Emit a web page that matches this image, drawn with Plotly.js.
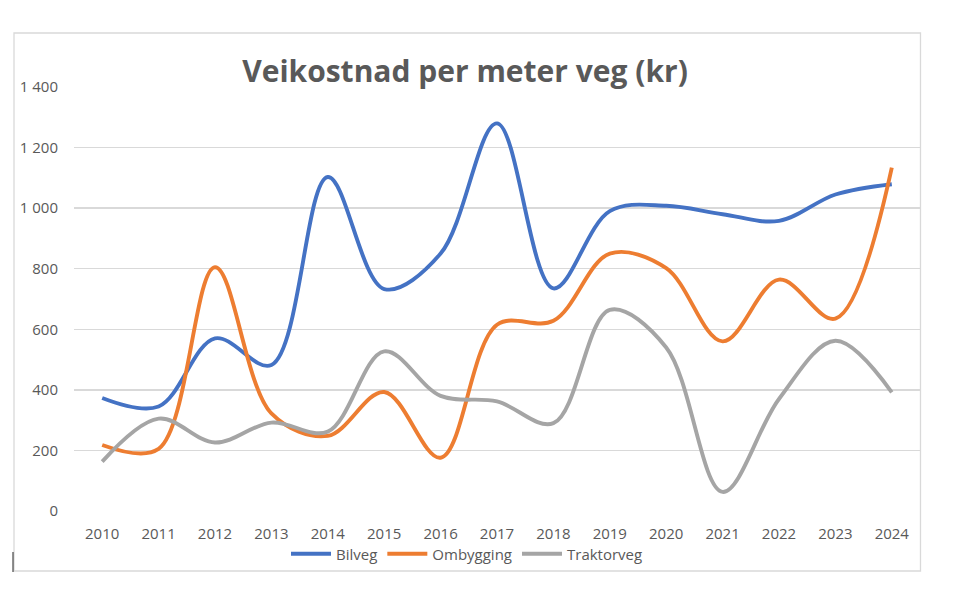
<!DOCTYPE html>
<html>
<head>
<meta charset="utf-8">
<script src="https://cdn.plot.ly/plotly-3.0.1.min.js"></script>
<style>html,body{margin:0;padding:0;background:#fff;}#chart{width:967px;height:611px;}</style>
</head>
<body>
<div id="chart"></div>
<script>
const years = ["2010","2011","2012","2013","2014","2015","2016","2017","2018","2019","2020","2021","2022","2023","2024"];
const bilveg = [373, 345, 570, 482, 1103, 733, 850, 1280, 735, 990, 1008, 980, 958, 1045, 1079];
const ombygging = [218, 205, 805, 322, 248, 393, 176, 615, 628, 850, 802, 560, 764, 635, 1134];
const traktorveg = [163, 305, 226, 292, 262, 527, 380, 362, 290, 664, 540, 63, 370, 562, 392];
const yTickVals = [0, 200, 400, 600, 800, 1000, 1200, 1400];
const yTickText = ["0", "200", "400", "600", "800", "1 000", "1 200", "1 400"];

const font = "Open Sans, Noto Sans, sans-serif";
const txt = "#595959";

function tr(name, y, color) {
  return {x: years, y: y, name: name, type: "scatter", mode: "lines",
    line: {color: color, width: 3.9, shape: "spline", smoothing: 1}};
}

const data = [
  tr("Bilveg", bilveg, "#4472C4"),
  tr("Ombygging", ombygging, "#ED7D31"),
  tr("Traktorveg", traktorveg, "#A5A5A5")
];

const layout = {
  width: 967, height: 611,
  margin: {l: 74, r: 47, t: 87, b: 100},
  paper_bgcolor: "#fff", plot_bgcolor: "#fff",
  font: {family: font, size: 15, color: txt},
  title: {text: "<b>Veikostnad per meter veg (kr)</b>", font: {family: font, size: 30, color: txt},
    xref: "paper", x: (465 - 74) / 846, xanchor: "center", yref: "container", y: 1 - 71 / 611, yanchor: "middle"},
  xaxis: {type: "category", range: [-0.5, 14.5], showgrid: false, zeroline: false, showline: false,
    ticks: "", ticklabelstandoff: 12, tickfont: {family: font, size: 15, color: txt}, fixedrange: true},
  yaxis: {range: [0, 1400], tickvals: yTickVals, ticktext: yTickText, showgrid: true, gridcolor: "#D9D9D9",
    gridwidth: 1.3, zeroline: false, showline: false, ticks: "", ticklabelstandoff: 15,
    tickfont: {family: font, size: 15, color: txt}, fixedrange: true},
  showlegend: true,
  legend: {orientation: "h", x: (467 - 74) / 846, xanchor: "center", y: (511 - 554) / 424, yanchor: "middle",
    itemwidth: 40, font: {family: font, size: 15, color: txt}, bgcolor: "rgba(0,0,0,0)", traceorder: "normal"},
  shapes: [
    {type: "rect", xref: "paper", yref: "paper", x0: (14 - 74) / 846, x1: (920.5 - 74) / 846,
      y0: (511 - 571) / 424, y1: (511 - 33) / 424, line: {color: "#D9D9D9", width: 1.3}, fillcolor: "rgba(0,0,0,0)", layer: "below"},
    {type: "line", xref: "paper", yref: "paper", x0: (13 - 74) / 846, x1: (13 - 74) / 846,
      y0: (511 - 552) / 424, y1: (511 - 572) / 424, line: {color: "#222", width: 1}}
  ]
};

Plotly.newPlot("chart", data, layout, {displayModeBar: false, staticPlot: true});
</script>
</body>
</html>
